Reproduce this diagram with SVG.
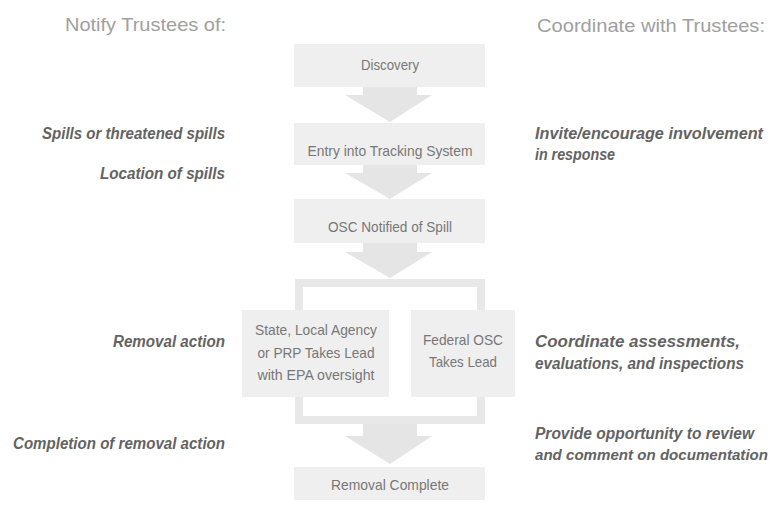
<svg xmlns="http://www.w3.org/2000/svg" width="776" height="508" viewBox="0 0 776 508">
<style>
.box{fill:#efefef}
.arr{fill:#e5e5e5}
.frame{fill:none;stroke:#e8e8e8;stroke-width:8}
.bt{font-family:"Liberation Sans",Arial,sans-serif;font-size:15px;fill:#777;text-anchor:middle}
.hd{font-family:"Liberation Sans",Arial,sans-serif;font-size:19px;fill:#a0a0a0}
.lb{font-family:"Liberation Sans",Arial,sans-serif;font-size:16px;font-weight:bold;font-style:italic;fill:#636363}
.r{text-anchor:end}
</style>
<rect width="776" height="508" fill="#fff"/>
<g id="headers">
<text class="hd r" x="226" y="31" textLength="161" lengthAdjust="spacingAndGlyphs">Notify Trustees of:</text>
<text class="hd" x="537" y="32" textLength="228" lengthAdjust="spacingAndGlyphs">Coordinate with Trustees:</text>
</g>
<g id="connectors">
<polygon class="arr" points="363,87 417,87 417,95 432,95 390,122 345,95 363,95"/>
<polygon class="arr" points="363,165 417,165 417,173 432,173 390,199 345,173 363,173"/>
<polygon class="arr" points="363,243 417,243 417,252 432,252 390,278 345,252 363,252"/>
<rect class="frame" x="299" y="283" width="182" height="137"/>
<polygon class="arr" points="363,424 417,424 417,436 432,436 390,464 345,436 363,436"/>
</g>
<g id="n-discovery"><rect class="box" x="294" y="44" width="191" height="43"/><text class="bt" x="390" y="70" textLength="58" lengthAdjust="spacingAndGlyphs">Discovery</text></g>
<g id="n-entry"><rect class="box" x="294" y="123" width="191" height="42"/><text class="bt" x="390" y="156" textLength="165" lengthAdjust="spacingAndGlyphs">Entry into Tracking System</text></g>
<g id="n-osc"><rect class="box" x="294" y="199" width="191" height="44"/><text class="bt" x="390" y="232" textLength="124" lengthAdjust="spacingAndGlyphs">OSC Notified of Spill</text></g>
<g id="n-state"><rect class="box" x="242" y="310" width="147" height="87"/>
<text class="bt" x="316" y="335" textLength="122" lengthAdjust="spacingAndGlyphs">State, Local Agency</text>
<text class="bt" x="316" y="358" textLength="117" lengthAdjust="spacingAndGlyphs">or PRP Takes Lead</text>
<text class="bt" x="316" y="380" textLength="117" lengthAdjust="spacingAndGlyphs">with EPA oversight</text></g>
<g id="n-federal"><rect class="box" x="411" y="310" width="104" height="87"/>
<text class="bt" x="463" y="345" textLength="80" lengthAdjust="spacingAndGlyphs">Federal OSC</text>
<text class="bt" x="463" y="367" textLength="68" lengthAdjust="spacingAndGlyphs">Takes Lead</text></g>
<g id="n-removal"><rect class="box" x="294" y="467" width="191" height="33"/><text class="bt" x="390" y="490" textLength="118" lengthAdjust="spacingAndGlyphs">Removal Complete</text></g>
<g id="left-labels">
<text class="lb r" x="225" y="139" textLength="183" lengthAdjust="spacingAndGlyphs">Spills or threatened spills</text>
<text class="lb r" x="225" y="179" textLength="125" lengthAdjust="spacingAndGlyphs">Location of spills</text>
<text class="lb r" x="225" y="347" textLength="112" lengthAdjust="spacingAndGlyphs">Removal action</text>
<text class="lb r" x="225" y="449" textLength="212" lengthAdjust="spacingAndGlyphs">Completion of removal action</text>
</g>
<g id="right-labels">
<text class="lb" x="535" y="139" textLength="228" lengthAdjust="spacingAndGlyphs">Invite/encourage involvement</text>
<text class="lb" x="535" y="160" textLength="80" lengthAdjust="spacingAndGlyphs">in response</text>
<text class="lb" x="535" y="347" textLength="205" lengthAdjust="spacingAndGlyphs">Coordinate assessments,</text>
<text class="lb" x="535" y="369" textLength="209" lengthAdjust="spacingAndGlyphs">evaluations, and inspections</text>
<text class="lb" x="535" y="439" textLength="219" lengthAdjust="spacingAndGlyphs">Provide opportunity to review</text>
<text class="lb" x="535" y="460" style="font-size:14.5px" textLength="233" lengthAdjust="spacingAndGlyphs">and comment on documentation</text>
</g>
</svg>
